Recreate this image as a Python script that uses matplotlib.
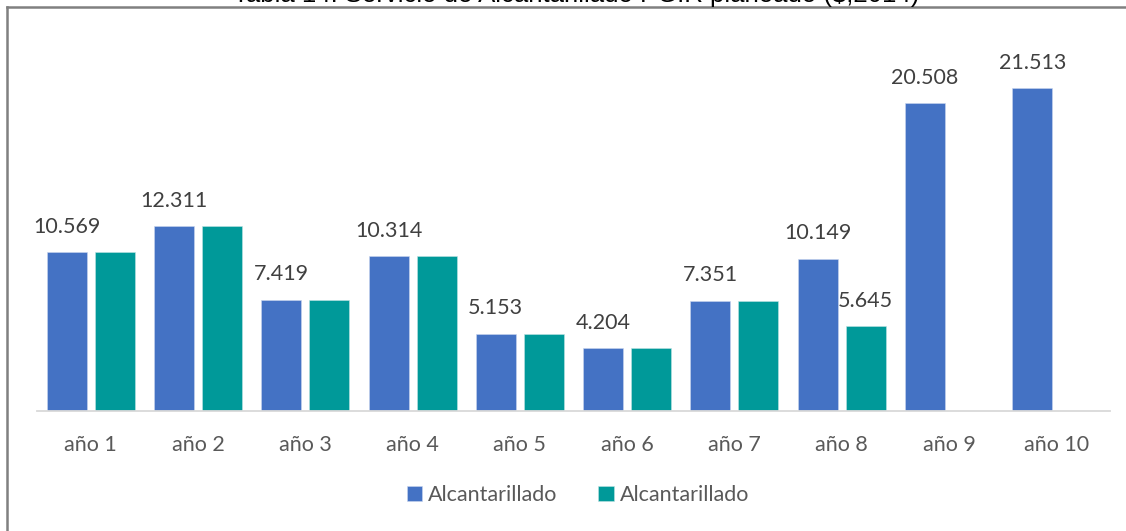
import numpy as np
import matplotlib
matplotlib.use("Agg")
import matplotlib.pyplot as plt
from matplotlib.lines import Line2D

# ======================
# DATOS
# ======================

anios = ["año 1", "año 2", "año 3", "año 4", "año 5",
         "año 6", "año 7", "año 8", "año 9", "año 10"]
serie_azul = [10.569, 12.311, 7.419, 10.314, 5.153, 4.204, 7.351, 10.149, 20.508, 21.513]
serie_verde = [10.569, 12.311, 7.419, 10.314, 5.153, 4.204, 7.351, 5.645, np.nan, np.nan]
etiquetas_verde = [7]  # solo se rotula el año 8 en la segunda serie

titulo = "Tabla 14. Servicio de Alcantarillado PGIR planeado ($,2014)"
nombre_serie = "Alcantarillado"

azul = "#4472C4"
verde = "#009999"
gris_txt = "#404040"
fs = 15.5

plt.rcParams['font.family'] = ['Lato', 'DejaVu Sans']

# ======================
# FIGURA
# ======================

fig = plt.figure(figsize=(11.26, 5.31), dpi=100)
ax = fig.add_axes([37 / 1126, 120 / 531, 1073 / 1126, 375 / 531])

x = np.arange(len(anios))
w = 0.373
d = 0.224

b1 = ax.bar(x - d, serie_azul, w, color=azul, edgecolor="#c9d6ee", linewidth=0.4)
b2 = ax.bar(x + d, serie_verde, w, color=verde, edgecolor="#bfe3e3", linewidth=0.4)

def fmt(v):
    return f"{v:.3f}"

for i, v in enumerate(serie_azul):
    ax.annotate(fmt(v), (x[i] - d, v), xytext=(0, 11), textcoords="offset points",
                ha="center", va="bottom", fontsize=fs, color=gris_txt)
for i in etiquetas_verde:
    v = serie_verde[i]
    ax.annotate(fmt(v), (x[i] + d, v), xytext=(0, 11), textcoords="offset points",
                ha="center", va="bottom", fontsize=fs, color=gris_txt)

ax.set_xlim(-0.5, len(anios) - 0.5)
ax.set_ylim(0, 25)
ax.set_xticks(x)
ax.set_xticklabels(anios, fontsize=fs, color="#595959")
ax.tick_params(axis="x", length=0, pad=17)
ax.set_yticks([])
for s in ["top", "right", "left"]:
    ax.spines[s].set_visible(False)
ax.spines["bottom"].set_color("#d9d9d9")
ax.spines["bottom"].set_linewidth(1.3)

# leyenda
ax.legend([b1, b2], [nombre_serie, nombre_serie], loc="center",
          bbox_to_anchor=(578 / 1126, 1 - 495 / 531), bbox_transform=fig.transFigure,
          ncol=2, frameon=False, fontsize=fs, labelcolor="#595959",
          handlelength=0.7, handleheight=0.7, handletextpad=0.3, columnspacing=1.9)

# marco recortado y titulo
fig.add_artist(Line2D([6.5 / 1126, 6.5 / 1126], [0, 1 - 6.5 / 531],
                      transform=fig.transFigure, color="#808080", lw=1.8))
fig.add_artist(Line2D([6.5 / 1126, 1], [1 - 6.5 / 531, 1 - 6.5 / 531],
                      transform=fig.transFigure, color="#808080", lw=1.8))
fig.text(576 / 1126, 1 - 2 / 531, titulo, ha="center", va="baseline",
         fontsize=18.5, family=["Liberation Sans", "DejaVu Sans"], color="black")

fig.savefig("out.png", dpi=100)
